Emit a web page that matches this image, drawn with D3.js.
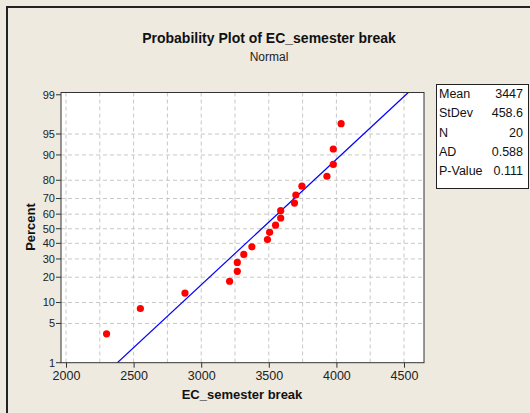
<!DOCTYPE html>
<html>
<head>
<meta charset="utf-8">
<script src="https://cdn.jsdelivr.net/npm/d3@7"></script>
<style>
  body { margin: 0; background: #eeeae0; }
  svg { display: block; font-family: "Liberation Sans", Arial, sans-serif; }
</style>
</head>
<body>
<svg id="chart" width="530" height="413"></svg>
<script>
// data
const ecValues = [2300, 2550, 2880, 3210, 3267, 3267, 3315, 3375, 3490, 3506,
                  3550, 3588, 3588, 3690, 3700, 3745, 3930, 3977, 3977, 4035];
const percents = [3.4, 8.3, 13.2, 18.1, 23.0, 27.9, 32.8, 37.7, 42.6, 47.5,
                  52.5, 57.4, 62.3, 67.2, 72.1, 77.0, 81.9, 86.8, 91.7, 96.6];
const xTicks = [2000, 2500, 3000, 3500, 4000, 4500];
const xGrid = [2000, 2250, 2500, 2750, 3000, 3250, 3500, 3750, 4000, 4250, 4500];
const yTicks = [1, 5, 10, 20, 30, 40, 50, 60, 70, 80, 90, 95, 99];
const statLabels = ["Mean", "StDev", "N", "AD", "P-Value"];
const statValues = ["3447", "458.6", "20", "0.588", "0.111"];
const fitMean = 3447, fitSd = 458.6;

// inverse normal cdf (Acklam) for the probability axis
function qnorm(p) {
    const a = [-3.969683028665376e+01, 2.209460984245205e+02, -2.759285104469687e+02,
               1.383577518672690e+02, -3.066479806614716e+01, 2.506628277459239e+00];
    const b = [-5.447609879822406e+01, 1.615858368580409e+02, -1.556989798598866e+02,
               6.680131188771972e+01, -1.328068155288572e+01];
    const c = [-7.784894002430293e-03, -3.223964580411365e-01, -2.400758277161838e+00,
               -2.549732539343734e+00, 4.374664141464968e+00, 2.938163982698783e+00];
    const d = [7.784695709041462e-03, 3.224671290700398e-01, 2.445134137142996e+00,
               3.754408661907416e+00];
    const pl = 0.02425;
    let q, r;
    if (p < pl) {
        q = Math.sqrt(-2 * Math.log(p));
        return (((((c[0]*q+c[1])*q+c[2])*q+c[3])*q+c[4])*q+c[5]) /
               ((((d[0]*q+d[1])*q+d[2])*q+d[3])*q+1);
    } else if (p <= 1 - pl) {
        q = p - 0.5; r = q * q;
        return (((((a[0]*r+a[1])*r+a[2])*r+a[3])*r+a[4])*r+a[5])*q /
               (((((b[0]*r+b[1])*r+b[2])*r+b[3])*r+b[4])*r+1);
    }
    q = Math.sqrt(-2 * Math.log(1 - p));
    return -(((((c[0]*q+c[1])*q+c[2])*q+c[3])*q+c[4])*q+c[5]) /
            ((((d[0]*q+d[1])*q+d[2])*q+d[3])*q+1);
}

const svg = d3.select("#chart");
const pLeft = 61, pRight = 424, pTop = 92.5, pBottom = 362.7;

// outer frame (top and left only)
svg.append("path")
    .attr("d", "M7,413 V7 H530")
    .attr("fill", "none").attr("stroke", "#222").attr("stroke-width", 2);

const x = d3.scaleLinear().domain([1963, 4648]).range([pLeft, pRight]);
const zTop = 2.366, zBot = qnorm(0.01);
const yz = d3.scaleLinear().domain([zBot, zTop]).range([pBottom, pTop]);
const y = p => yz(qnorm(p / 100));

svg.append("rect")
    .attr("x", pLeft).attr("y", pTop)
    .attr("width", pRight - pLeft).attr("height", pBottom - pTop)
    .attr("fill", "#fff");

// grid
const grid = svg.append("g").attr("stroke", "#c8c8c8").attr("stroke-dasharray", "4,3");
grid.selectAll("line.vg").data(xGrid).join("line")
    .attr("class", "vg")
    .attr("x1", d => x(d)).attr("x2", d => x(d))
    .attr("y1", pTop).attr("y2", pBottom);
grid.selectAll("line.hg").data(yTicks.filter(d => d > 1 && d < 99)).join("line")
    .attr("class", "hg")
    .attr("y1", d => y(d)).attr("y2", d => y(d))
    .attr("x1", pLeft).attr("x2", pRight);

// fitted line
svg.append("clipPath").attr("id", "plotclip")
    .append("rect").attr("x", pLeft).attr("y", pTop)
    .attr("width", pRight - pLeft).attr("height", pBottom - pTop);
svg.append("line")
    .attr("clip-path", "url(#plotclip)")
    .attr("x1", x(fitMean + zBot * fitSd)).attr("y1", yz(zBot))
    .attr("x2", x(fitMean + zTop * fitSd)).attr("y2", yz(zTop))
    .attr("stroke", "#0000ff").attr("stroke-width", 1.2);

// points
svg.selectAll("circle.pt").data(ecValues).join("circle")
    .attr("class", "pt")
    .attr("cx", d => x(d))
    .attr("cy", (d, i) => y(percents[i]))
    .attr("r", 3.6)
    .attr("fill", "#ff0000");

svg.append("rect")
    .attr("x", pLeft).attr("y", pTop)
    .attr("width", pRight - pLeft).attr("height", pBottom - pTop)
    .attr("fill", "none").attr("stroke", "#333").attr("stroke-width", 1);

// x axis
const xAxis = svg.append("g").attr("transform", `translate(0,${pBottom})`)
    .call(d3.axisBottom(x).tickValues(xTicks).tickFormat(d3.format("d"))
        .tickSize(5).tickPadding(3));
xAxis.select(".domain").remove();
xAxis.selectAll("line").attr("stroke", "#333");
xAxis.selectAll("text").attr("font-size", 12.5).attr("fill", "#222")
    .attr("font-family", "Liberation Sans, Arial, sans-serif");

// y axis (probability scale)
const yg = svg.append("g");
yg.selectAll("line").data(yTicks).join("line")
    .attr("x1", pLeft - 5).attr("x2", pLeft)
    .attr("y1", d => y(d)).attr("y2", d => y(d))
    .attr("stroke", "#333");
yg.selectAll("text").data(yTicks).join("text")
    .attr("x", pLeft - 6).attr("y", d => y(d)).attr("dy", "0.35em")
    .attr("text-anchor", "end").attr("font-size", 11).attr("fill", "#222")
    .text(d => d);

// titles
svg.append("text").attr("x", 269).attr("y", 43).attr("text-anchor", "middle")
    .attr("font-size", 14).attr("font-weight", "bold").attr("fill", "#111")
    .text("Probability Plot of EC_semester break");
svg.append("text").attr("x", 269).attr("y", 61).attr("text-anchor", "middle")
    .attr("font-size", 12).attr("fill", "#222").text("Normal");
svg.append("text").attr("x", 242).attr("y", 399).attr("text-anchor", "middle")
    .attr("font-size", 13).attr("font-weight", "bold").attr("fill", "#111")
    .text("EC_semester break");
svg.append("text").attr("transform", "translate(35,227) rotate(-90)")
    .attr("text-anchor", "middle")
    .attr("font-size", 13).attr("font-weight", "bold").attr("fill", "#111")
    .text("Percent");

// stats box
svg.append("rect").attr("x", 436.5).attr("y", 84.5).attr("width", 92).attr("height", 104)
    .attr("fill", "#fff").attr("stroke", "#222");
const stats = svg.append("g").attr("font-size", 12.5).attr("fill", "#111");
stats.selectAll("text.lab").data(statLabels).join("text")
    .attr("class", "lab").attr("x", 439).attr("y", (d, i) => 98 + i * 19.3)
    .text(d => d);
stats.selectAll("text.val").data(statValues).join("text")
    .attr("class", "val").attr("x", 523).attr("y", (d, i) => 98 + i * 19.3)
    .attr("text-anchor", "end").text(d => d);
</script>
</body>
</html>
